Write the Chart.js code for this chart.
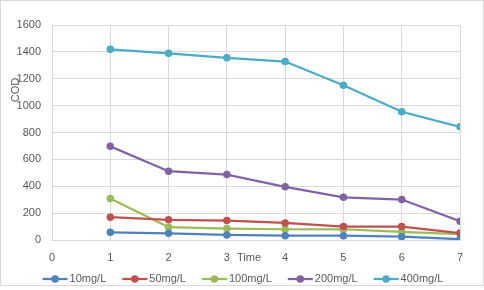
<!DOCTYPE html>
<html>
<head>
<meta charset="utf-8">
<script src="https://cdn.jsdelivr.net/npm/chart.js@4.4.1/dist/chart.umd.min.js"></script>
<style>
    html, body { margin: 0; padding: 0; background: #fff; }
    #wrap { width: 484px; height: 290px; }
</style>
</head>
<body>
<div id="wrap"><canvas id="codChart" width="484" height="290"></canvas></div>
<script>
// values
var times = [1, 2, 3, 4, 5, 6, 7];
var seriesNames = ['10mg/L', '50mg/L', '100mg/L', '200mg/L', '400mg/L'];
var cod10 = [57, 50, 38, 32, 32, 25, 6];
var cod50 = [170, 150, 145, 127, 100, 100, 52];
var cod100 = [308, 95, 85, 80, 80, 60, 44];
var cod200 = [697, 512, 487, 396, 318, 301, 140];
var cod400 = [1419, 1389, 1356, 1328, 1152, 954, 842];
var yTicks = [0, 200, 400, 600, 800, 1000, 1200, 1400, 1600];
var xTicks = [0, 1, 2, 3, 4, 5, 6, 7];

var colors = ['#4F81BD', '#C0504D', '#9BBB59', '#8064A2', '#4BACC6'];
var allSeries = [cod10, cod50, cod100, cod200, cod400];
var FONT = '"Liberation Sans", Arial, sans-serif';

function toPoints(values) {
    return times.map(function (t, i) { return { x: t, y: values[i] }; });
}

var datasets = allSeries.map(function (vals, i) {
    return {
        label: seriesNames[i],
        data: toPoints(vals),
        borderColor: colors[i],
        backgroundColor: colors[i],
        borderWidth: 2.25,
        pointRadius: 3.75,
        pointHoverRadius: 3.75,
        pointBorderWidth: 0,
        tension: 0
    };
});

// axis titles, legend and outer border, laid out like the spreadsheet chart
var decorPlugin = {
    id: 'decor',
    afterDraw: function (chart) {
        var ctx = chart.ctx;
        ctx.save();
        ctx.strokeStyle = '#D9D9D9';
        ctx.lineWidth = 1;
        ctx.strokeRect(0.5, 0.5, 483, 285);

        ctx.fillStyle = '#595959';
        ctx.font = '11px ' + FONT;
        ctx.textAlign = 'center';
        ctx.textBaseline = 'middle';
        ctx.fillText('Time', 249, 258);

        ctx.save();
        ctx.translate(15.5, 90);
        ctx.rotate(-Math.PI / 2);
        ctx.fillText('COD', 0, 0);
        ctx.restore();

        // legend
        var lineW = 25, gap = 16, textGap = 2, cy = 279;
        var widths = chart.data.datasets.map(function (ds) {
            return lineW + textGap + ctx.measureText(ds.label).width;
        });
        var total = widths.reduce(function (a, b) { return a + b; }, 0) + gap * (widths.length - 1);
        var x = (484 - total) / 2 + 1;
        ctx.textAlign = 'left';
        chart.data.datasets.forEach(function (ds, i) {
            ctx.strokeStyle = ds.borderColor;
            ctx.lineWidth = 2.25;
            ctx.beginPath();
            ctx.moveTo(x, cy);
            ctx.lineTo(x + lineW, cy);
            ctx.stroke();
            ctx.fillStyle = ds.borderColor;
            ctx.beginPath();
            ctx.arc(x + lineW / 2, cy, 3.75, 0, Math.PI * 2);
            ctx.fill();
            ctx.fillStyle = '#595959';
            ctx.fillText(ds.label, x + lineW + textGap, cy);
            x += widths[i] + gap;
        });
        ctx.restore();
    }
};

var ctx = document.getElementById('codChart').getContext('2d');
var codChart = new Chart(ctx, {
    type: 'line',
    data: { datasets: datasets },
    options: {
        responsive: false,
        animation: false,
        layout: { padding: { top: 25, right: 24, left: 0, bottom: 0 } },
        scales: {
            x: {
                type: 'linear',
                min: xTicks[0],
                max: xTicks[xTicks.length - 1],
                afterFit: function (scale) { scale.height = 50; },
                afterBuildTicks: function (scale) {
                    scale.ticks = xTicks.map(function (v) { return { value: v }; });
                },
                grid: { color: '#D9D9D9', drawTicks: false },
                border: { color: '#D9D9D9' },
                ticks: {
                    color: '#595959',
                    padding: 11,
                    font: { family: FONT, size: 11 },
                    callback: function (v) { return String(v); }
                }
            },
            y: {
                min: yTicks[0],
                max: yTicks[yTicks.length - 1],
                afterFit: function (scale) { scale.width = 52; },
                afterBuildTicks: function (scale) {
                    scale.ticks = yTicks.map(function (v) { return { value: v }; });
                },
                grid: { color: '#D9D9D9', drawTicks: false },
                border: { color: '#D9D9D9' },
                ticks: {
                    color: '#595959',
                    padding: 11,
                    font: { family: FONT, size: 11 },
                    callback: function (v) { return String(v); }
                }
            }
        },
        plugins: {
            legend: { display: false },
            tooltip: { enabled: false }
        }
    },
    plugins: [decorPlugin]
});
</script>
</body>
</html>
